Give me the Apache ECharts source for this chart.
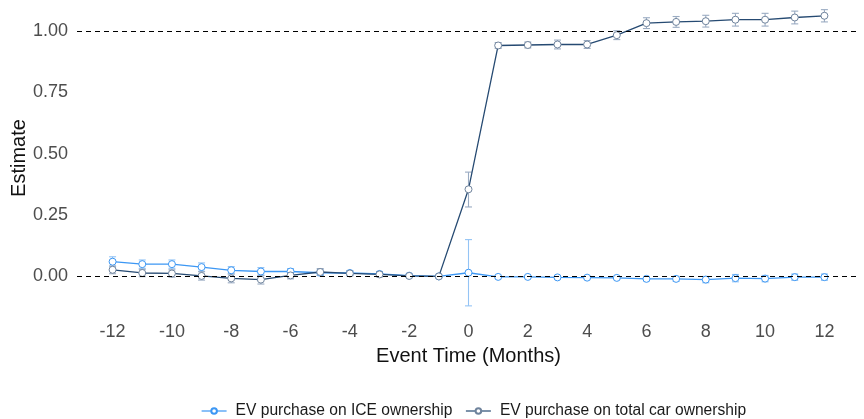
<!DOCTYPE html>
<html><head><meta charset="utf-8">
<script src="https://cdn.jsdelivr.net/npm/echarts@6/dist/echarts.min.js"></script>
<style>html,body{margin:0;padding:0;background:#fff}#c{width:864px;height:419px}</style>
</head><body><div id="c"></div>
<script>
const months = [-12,-11,-10,-9,-8,-7,-6,-5,-4,-3,-2,-1,0,1,2,3,4,5,6,7,8,9,10,11,12];
const xTicks = [-12,-10,-8,-6,-4,-2,0,2,4,6,8,10,12];
const yTicks = [0,0.25,0.5,0.75,1];
const refLines = [0,1];

const iceEst = [0.060,0.050,0.050,0.038,0.025,0.020,0.020,0.015,0.014,0.010,0.003,0,0.015,-0.002,-0.002,-0.004,-0.005,-0.006,-0.010,-0.010,-0.013,-0.007,-0.009,-0.003,-0.003];
const iceLow  = [0.040,0.033,0.033,0.021,0.010,0.004,0.008,0.003,0.004,0.000,-0.002,0,-0.120,-0.006,-0.006,-0.008,-0.009,-0.012,-0.018,-0.020,-0.026,-0.022,-0.022,-0.016,-0.016];
const iceHigh = [0.080,0.067,0.067,0.055,0.040,0.036,0.032,0.027,0.024,0.020,0.008,0,0.150,0.002,0.002,0.000,-0.001,0.000,-0.002,0.000,0.000,0.008,0.004,0.010,0.010];

const totEst = [0.027,0.014,0.012,0.002,-0.008,-0.013,0.004,0.018,0.012,0.008,0.002,0,0.355,0.941,0.943,0.945,0.945,0.983,1.032,1.037,1.040,1.046,1.046,1.055,1.062];
const totLow  = [0.011,-0.001,-0.003,-0.015,-0.026,-0.031,-0.010,0.004,0.002,-0.002,-0.004,0,0.283,0.929,0.931,0.927,0.929,0.965,1.010,1.015,1.016,1.020,1.020,1.029,1.037];
const totHigh = [0.043,0.029,0.027,0.019,0.010,0.005,0.018,0.032,0.022,0.018,0.008,0,0.425,0.953,0.955,0.963,0.961,1.001,1.054,1.059,1.064,1.072,1.072,1.081,1.087];

const ICE_NAME = 'EV purchase on ICE ownership';
const TOT_NAME = 'EV purchase on total car ownership';
const iceColor = '#3c97f4';
const totColor = '#264a72';
const iceErr = '#94c4f5';
const totErr = '#9aabc2';

function errSeries(low, high, color) {
  return {
    type: 'custom',
    silent: true,
    z: 1,
    data: months.map((m, i) => [m, low[i], high[i]]),
    renderItem: function (params, api) {
      const x = api.value(0);
      if (api.value(1) === api.value(2)) return null;
      const p1 = api.coord([x, api.value(1)]);
      const p2 = api.coord([x, api.value(2)]);
      const w = 3.5;
      const st = { stroke: color, lineWidth: 1.1 };
      return { type: 'group', children: [
        { type: 'line', shape: { x1: p1[0], y1: p1[1], x2: p2[0], y2: p2[1] }, style: st },
        { type: 'line', shape: { x1: p1[0]-w, y1: p1[1], x2: p1[0]+w, y2: p1[1] }, style: st },
        { type: 'line', shape: { x1: p2[0]-w, y1: p2[1], x2: p2[0]+w, y2: p2[1] }, style: st }
      ]};
    }
  };
}

const chart = echarts.init(document.getElementById('c'), null, { renderer: 'canvas' });
chart.setOption({
  animation: false,
  backgroundColor: '#fff',
  textStyle: { fontFamily: 'Liberation Sans, Arial, sans-serif' },
  grid: { left: 77, right: 4, top: 4, bottom: 107, containLabel: false, outerBoundsMode: 'none' },
  legend: {
    bottom: -5, left: 196, itemWidth: 25, itemHeight: 7, itemGap: 13,
    textStyle: { fontSize: 15.6, color: '#1a1a1a', padding: [0, 0, 0, 4] },
    lineStyle: { width: 1.2 },
    data: [ICE_NAME, TOT_NAME]
  },
  xAxis: {
    type: 'value', min: -13.2, max: 13.2,
    name: 'Event Time (Months)', nameLocation: 'middle', nameGap: 34, nameMoveOverlap: false,
    nameTextStyle: { fontSize: 20, color: '#111' },
    axisLine: { show: false }, axisTick: { show: false }, splitLine: { show: false },
    axisLabel: { customValues: xTicks, fontSize: 18, color: '#4d4d4d', margin: 11 }
  },
  yAxis: {
    type: 'value', min: -0.145, max: 1.11,
    name: 'Estimate', nameLocation: 'middle', nameGap: 48, nameMoveOverlap: false,
    nameTextStyle: { fontSize: 20, color: '#111' },
    axisLine: { show: false }, axisTick: { show: false }, splitLine: { show: false },
    axisLabel: { customValues: yTicks, fontSize: 18, color: '#4d4d4d', margin: 9,
      formatter: v => v.toFixed(2) }
  },
  series: [
    errSeries(iceLow, iceHigh, iceErr),
    errSeries(totLow, totHigh, totErr),
    {
      name: ICE_NAME, type: 'line', z: 3,
      data: months.map((m, i) => [m, iceEst[i]]),
      lineStyle: { color: iceColor, width: 1.3 },
      itemStyle: { color: '#fff', borderColor: iceColor, borderWidth: 1 },
      symbol: 'circle', symbolSize: 7,
      markLine: {
        silent: true, symbol: 'none', label: { show: false },
        lineStyle: { color: '#000', type: [5, 4], width: 1 },
        data: refLines.map(v => ({ yAxis: v }))
      }
    },
    {
      name: TOT_NAME, type: 'line', z: 4,
      data: months.map((m, i) => [m, totEst[i]]),
      lineStyle: { color: totColor, width: 1.3 },
      itemStyle: { color: '#fff', borderColor: '#6f839c', borderWidth: 1 },
      symbol: 'circle', symbolSize: 7
    }
  ]
});
</script></body></html>
